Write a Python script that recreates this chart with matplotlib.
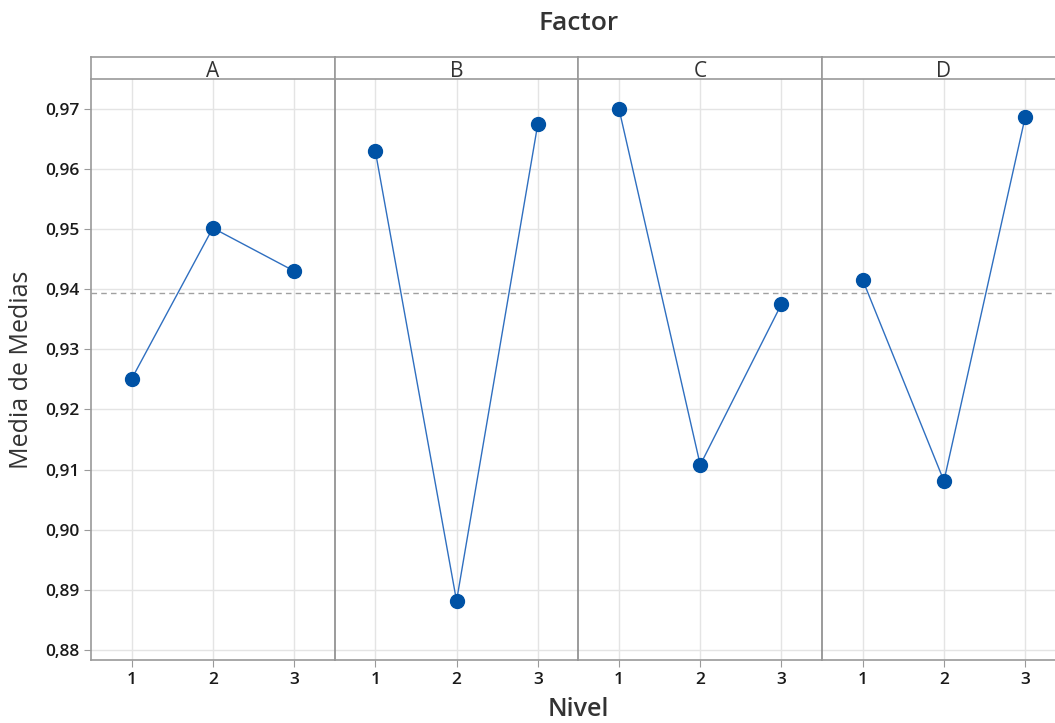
import matplotlib.pyplot as plt
import matplotlib.ticker as mticker

plt.rcParams['font.family'] = ['Open Sans', 'DejaVu Sans']

factors = ['A', 'B', 'C', 'D']
levels = [1, 2, 3]
means_A = [0.92507, 0.95020, 0.94304]
means_B = [0.96301, 0.88814, 0.96750]
means_C = [0.97000, 0.91077, 0.93755]
means_D = [0.94155, 0.90810, 0.96867]
grand_mean = 0.93938
yticks = [0.88, 0.89, 0.90, 0.91, 0.92, 0.93, 0.94, 0.95, 0.96, 0.97]

W, H = 1055, 723
fig = plt.figure(figsize=(W / 100, H / 100), dpi=100)

left, pw = 91, 243.7
top, strip_top, bottom = 79, 57, 660
txt = '#333333'
edge = '#9a9a9a'

series = [means_A, means_B, means_C, means_D]
axes = []
for i, (name, vals) in enumerate(zip(factors, series)):
    x0 = left + i * pw
    ax = fig.add_axes([x0 / W, 1 - bottom / H, pw / W, (bottom - top) / H])
    ax.set_xlim(0.5, 3.5)
    ax.set_ylim(0.8783, 0.975)
    ax.set_yticks(yticks)
    ax.set_xticks(levels)
    ax.grid(True, color='#e4e4e4', lw=1)
    ax.set_axisbelow(True)
    ax.axhline(grand_mean, color='#a0a0a0', lw=1, ls=(0, (4, 3)), zorder=1)
    ax.plot(levels, vals, color='#2f6fc0', lw=1, zorder=2)
    ax.plot(levels, vals, 'o', color='#0052a5', ms=10, zorder=3)
    for s in ax.spines.values():
        s.set_color(edge)
        s.set_linewidth(1.2)
    ax.spines['top'].set_visible(False)
    ax.tick_params(colors=edge, labelcolor='#1a1a1a', labelsize=12.5, length=5)
    if i > 0:
        ax.tick_params(axis='y', left=False, labelleft=False)
        ax.spines['left'].set_color('#8a8a8a')
    else:
        ax.yaxis.set_major_formatter(
            mticker.FuncFormatter(lambda v, p: f'{v:.2f}'.replace('.', ',')))
    if i < 3:
        ax.spines['right'].set_visible(False)
    for lab in ax.get_xticklabels() + ax.get_yticklabels():
        lab.set_fontweight('semibold')
    # header strip
    sax = fig.add_axes([x0 / W, 1 - top / H, pw / W, (top - strip_top) / H])
    sax.set_xticks([])
    sax.set_yticks([])
    for s in sax.spines.values():
        s.set_color(edge)
        s.set_linewidth(1.2)
    sax.text(0.5, 0.08, name, ha='center', va='baseline', fontsize=15, color=txt)
    axes.append(ax)

axes[0].set_ylabel('Media de Medias', fontsize=18, color=txt, labelpad=8)
fig.text((left + 2 * pw) / W, 1 - 24 / H, 'Factor', ha='center', va='center',
         fontsize=19, color=txt, fontweight='semibold')
fig.text((left + 2 * pw) / W, 1 - 709 / H, 'Nivel', ha='center', va='center',
         fontsize=18, color=txt, fontweight='semibold')

fig.savefig('out.png', dpi=100)
